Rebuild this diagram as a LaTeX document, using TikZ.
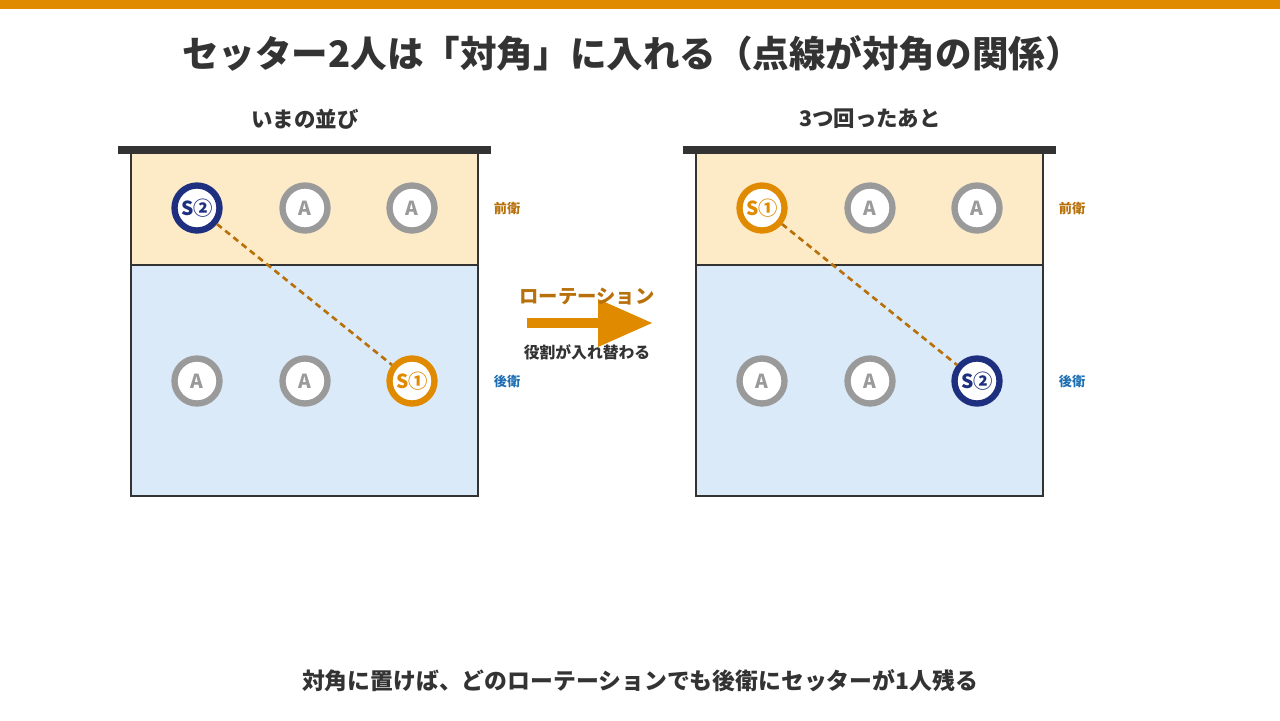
\documentclass[tikz,border=0pt]{standalone}
\usepackage{fontspec}
\setmainfont{Noto Sans CJK JP}
\usetikzlibrary{positioning}
\definecolor{accent}{HTML}{E08A00}
\definecolor{diag}{HTML}{B8700A}
\definecolor{navy}{HTML}{1F2F7F}
\definecolor{front}{HTML}{FDEBC8}
\definecolor{back}{HTML}{DAEAF8}
\definecolor{ink}{HTML}{333333}
\definecolor{grey}{HTML}{9A9A9A}
\definecolor{blue}{HTML}{1F6FB5}
\tikzset{
  player/.style={circle, draw=#1, fill=white, line width=3.6pt, minimum size=0.9cm, inner sep=0pt,
    text=#1, font=\bfseries\fontsize{11}{11}\selectfont},
  zone/.style={font=\bfseries\fontsize{7.5}{8}\selectfont},
  head/.style={font=\bfseries\fontsize{12.2}{13}\selectfont, text=ink}
}
\begin{document}
\begin{tikzpicture}[x=0.02cm, y=-0.02cm]
  \useasboundingbox (0,0) rectangle (1280,720);
  \fill[accent] (0,0) rectangle (1280,9);
  \node[font=\bfseries\fontsize{20.8}{22}\selectfont, text=ink] (title) at (632,53) {セッター2人は「対角」に入れる（点線が対角の関係）};

  % Courts
  \foreach \dx/\name in {0/left, 565/right} {
    \fill[front] (131+\dx,152) rectangle (478+\dx,265);
    \fill[back] (131+\dx,265) rectangle (478+\dx,496);
    \draw[ink, line width=1.6pt] (131+\dx,152) rectangle (478+\dx,496);
    \draw[ink, line width=1.2pt] (131+\dx,265) -- (478+\dx,265);
    \draw[ink, line width=4pt] (118+\dx,150) -- (491+\dx,150);
    \node[zone, text=diag] (\name front) at (507+\dx,208) {前衛};
    \node[zone, text=blue] (\name back) at (507+\dx,381) {後衛};
  }
  \node[head] (lhead) at (305,119) {いまの並び};
  \node[head] (rhead) at (870,119) {3つ回ったあと};

  % Left players
  \node[player=navy] (ls2) at (197,208) {S②};
  \node[player=grey] (la1) at (305,208) {A};
  \node[player=grey] (la2) at (412,208) {A};
  \node[player=grey] (la3) at (197,381) {A};
  \node[player=grey] (la4) at (305,381) {A};
  \node[player=accent] (ls1) at (412,381) {S①};
  \draw[diag, line width=1.5pt, dash pattern=on 3.5pt off 2.5pt] (ls2) -- (ls1);

  % Right players
  \node[player=accent] (rs1) at (762,208) {S①};
  \node[player=grey] (ra1) at (870,208) {A};
  \node[player=grey] (ra2) at (977,208) {A};
  \node[player=grey] (ra3) at (762,381) {A};
  \node[player=grey] (ra4) at (870,381) {A};
  \node[player=navy] (rs2) at (977,381) {S②};
  \draw[diag, line width=1.5pt, dash pattern=on 3.5pt off 2.5pt] (rs1) -- (rs2);

  % Rotation arrow
  \coordinate (astart) at (527,323);
  \coordinate (aend) at (600,323);
  \draw[accent, line width=5.5pt] (astart) -- (aend);
  \fill[accent] (598,299) -- (652,323) -- (598,347) -- cycle;
  \node[font=\bfseries\fontsize{11}{12}\selectfont, text=diag] (rot) at (587,297) {ローテーション};
  \node[font=\bfseries\fontsize{9}{10}\selectfont, text=ink] (swap) at (587,352) {役割が入れ替わる};

  \node[font=\bfseries\fontsize{13}{14}\selectfont, text=ink] (note) at (640,681) {対角に置けば、どのローテーションでも後衛にセッターが1人残る};
\end{tikzpicture}
\end{document}
